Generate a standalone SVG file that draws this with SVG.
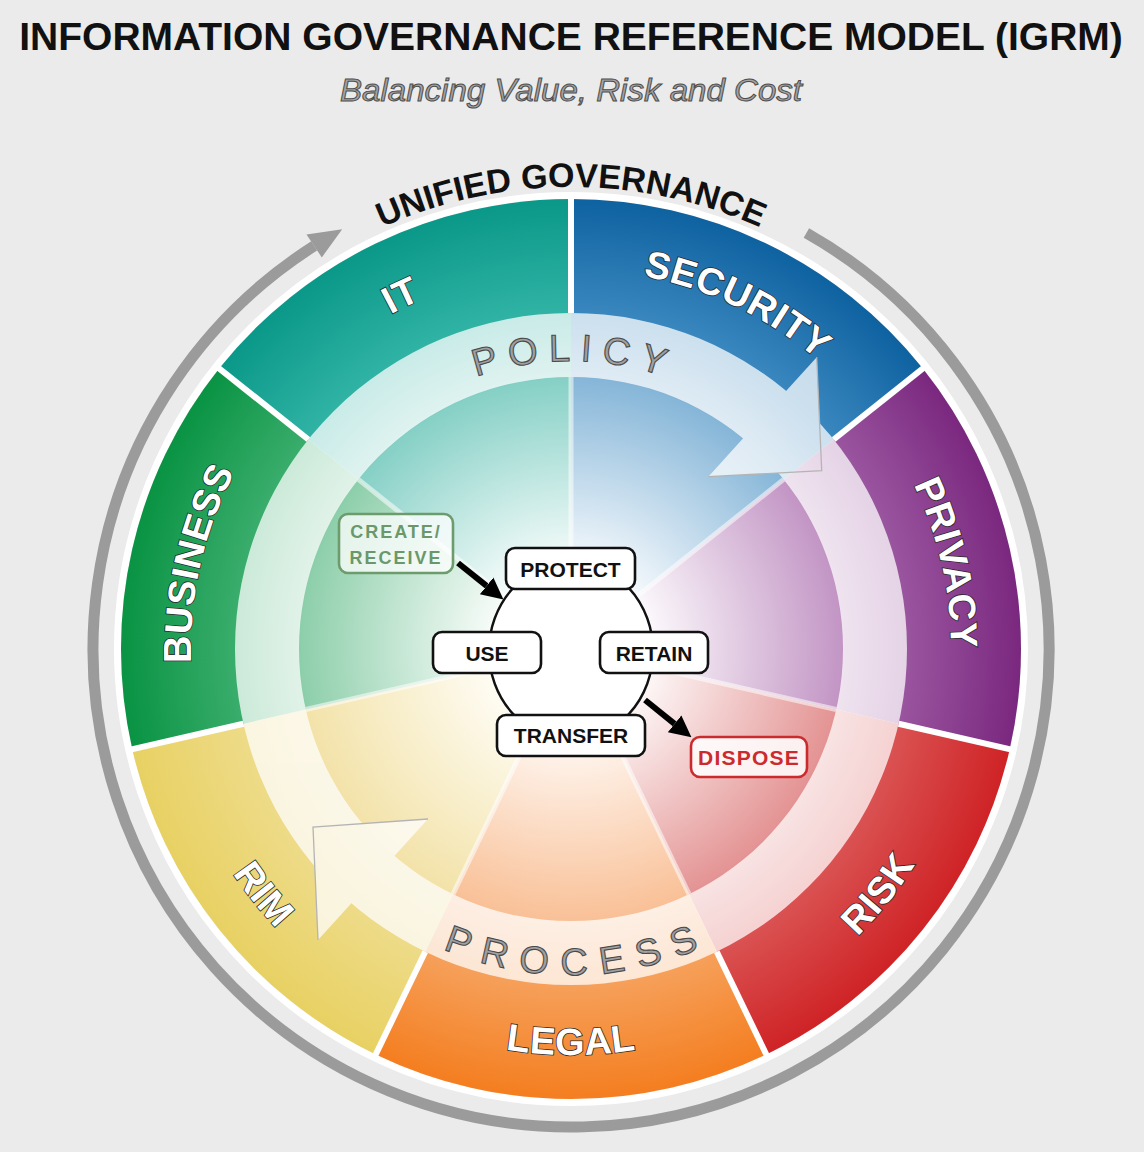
<svg xmlns="http://www.w3.org/2000/svg" xmlns:xlink="http://www.w3.org/1999/xlink" width="1144" height="1152" viewBox="0 0 1144 1152">
<style>
.lbl{font-family:"Liberation Sans",Arial,sans-serif;font-weight:bold;font-size:38px;fill:#fff;stroke:#2a2a2a;stroke-width:1.6px;paint-order:stroke;letter-spacing:0.5px}
.ring{font-family:"Liberation Sans",Arial,sans-serif;font-size:38px;fill:#a0a0a0;stroke:#4a4a4a;stroke-width:1.1px}
.box{fill:#fff;stroke:#111;stroke-width:2.6px}
.bt{font-family:"Liberation Sans",Arial,sans-serif;font-weight:bold;font-size:21px;fill:#111;text-anchor:middle}
.sep{stroke:#fff;stroke-width:6px}
.isep{stroke:#fff;stroke-width:5px;opacity:0.55}
.conn{stroke:#000;stroke-width:6px;fill:none}
</style>
<defs>
<radialGradient id="gIT" gradientUnits="userSpaceOnUse" cx="571" cy="649" r="450">
<stop offset="0" stop-color="#fff"/><stop offset="0.17" stop-color="#fbfefd"/><stop offset="0.6" stop-color="#86d0c6"/><stop offset="0.745" stop-color="#30b3a5"/><stop offset="1" stop-color="#0a9888"/></radialGradient>
<radialGradient id="gSEC" gradientUnits="userSpaceOnUse" cx="571" cy="649" r="450">
<stop offset="0" stop-color="#fff"/><stop offset="0.17" stop-color="#fafcfe"/><stop offset="0.6" stop-color="#86b6d8"/><stop offset="0.745" stop-color="#3a87bf"/><stop offset="1" stop-color="#0e62a0"/></radialGradient>
<radialGradient id="gPRI" gradientUnits="userSpaceOnUse" cx="571" cy="649" r="450">
<stop offset="0" stop-color="#fff"/><stop offset="0.17" stop-color="#fdfbfd"/><stop offset="0.6" stop-color="#c396c5"/><stop offset="0.745" stop-color="#9a559f"/><stop offset="1" stop-color="#7a287f"/></radialGradient>
<radialGradient id="gRISK" gradientUnits="userSpaceOnUse" cx="571" cy="649" r="450">
<stop offset="0" stop-color="#fff"/><stop offset="0.17" stop-color="#fefafa"/><stop offset="0.6" stop-color="#e49494"/><stop offset="0.745" stop-color="#da5252"/><stop offset="1" stop-color="#cf2326"/></radialGradient>
<radialGradient id="gLEG" gradientUnits="userSpaceOnUse" cx="571" cy="649" r="450">
<stop offset="0" stop-color="#fff"/><stop offset="0.17" stop-color="#fffbf8"/><stop offset="0.6" stop-color="#f9c198"/><stop offset="0.745" stop-color="#f6a05a"/><stop offset="1" stop-color="#f47e20"/></radialGradient>
<radialGradient id="gRIM" gradientUnits="userSpaceOnUse" cx="571" cy="649" r="450">
<stop offset="0" stop-color="#fff"/><stop offset="0.17" stop-color="#fffdf6"/><stop offset="0.6" stop-color="#f3e3aa"/><stop offset="0.745" stop-color="#eedb88"/><stop offset="1" stop-color="#e8d163"/></radialGradient>
<radialGradient id="gBUS" gradientUnits="userSpaceOnUse" cx="571" cy="649" r="450">
<stop offset="0" stop-color="#fff"/><stop offset="0.17" stop-color="#fafdfb"/><stop offset="0.6" stop-color="#8ecfab"/><stop offset="0.745" stop-color="#3aad6c"/><stop offset="1" stop-color="#099343"/></radialGradient>
<marker id="ah" viewBox="0 0 10 10" refX="0" refY="5" markerWidth="3.6" markerHeight="4.2" orient="auto" markerUnits="strokeWidth">
<path d="M0 0 L10 5 L0 10 Z" fill="#000"/></marker>
<path id="pIT" d="M192.06 620.6 A380 380 0 0 1 785.06 335.03"/>
<path id="pSEC" d="M356.94 335.03 A380 380 0 0 1 949.94 620.6"/>
<path id="pPRI" d="M683.01 285.88 A380 380 0 0 1 829.46 927.56"/>
<path id="pBUS" d="M312.54 927.56 A380 380 0 0 1 458.99 285.88"/>
<path id="pRISK" d="M510.49 1050.46 A406 406 0 0 0 948.93 500.67"/>
<path id="pLEG" d="M219.39 852 A406 406 0 0 0 922.61 852"/>
<path id="pRIM" d="M193.07 500.67 A406 406 0 0 0 631.51 1050.46"/>
<path id="pUG" d="M170.9 418 A462 462 0 0 1 971.1 418"/>
<path id="pPOL" d="M321.58 505 A288 288 0 0 1 820.42 505"/>
<path id="pPRO" d="M288.68 812 A326 326 0 0 0 853.32 812"/>
</defs>

<rect width="1144" height="1152" fill="#ebebeb"/>

<g id="title">
<text x="571" y="50" text-anchor="middle" font-family="'Liberation Sans',Arial,sans-serif" font-weight="bold" font-size="39" fill="#111">INFORMATION GOVERNANCE REFERENCE MODEL (IGRM)</text>
<text x="571" y="101" text-anchor="middle" textLength="462" lengthAdjust="spacingAndGlyphs" font-family="'Liberation Sans',Arial,sans-serif" font-style="italic" font-size="32" fill="#a3a3a3" stroke="#4d4d4d" stroke-width="1">Balancing Value, Risk and Cost</text>
</g>

<g id="unified-governance">
<path d="M806.4 233 A478 478 0 1 1 314.2 245.9" fill="none" stroke="#9b9b9b" stroke-width="11"/>
<polygon points="342.2,229.3 306.5,234.5 321.8,257.4" fill="#9b9b9b"/>
<text font-family="'Liberation Sans',Arial,sans-serif" font-weight="bold" font-size="34" fill="#111" text-anchor="middle"><textPath href="#pUG" xlink:href="#pUG" startOffset="50%">UNIFIED GOVERNANCE</textPath></text>
</g>

<circle cx="571" cy="649" r="453.5" fill="none" stroke="#fff" stroke-width="7"/>

<g id="sector-security"><path d="M571 649 L571 199 A450 450 0 0 1 922.82 368.43 Z" fill="url(#gSEC)"/></g>
<g id="sector-privacy"><path d="M571 649 L922.82 368.43 A450 450 0 0 1 1009.72 749.13 Z" fill="url(#gPRI)"/></g>
<g id="sector-risk"><path d="M571 649 L1009.72 749.13 A450 450 0 0 1 766.25 1054.44 Z" fill="url(#gRISK)"/></g>
<g id="sector-legal"><path d="M571 649 L766.25 1054.44 A450 450 0 0 1 375.75 1054.44 Z" fill="url(#gLEG)"/></g>
<g id="sector-rim"><path d="M571 649 L375.75 1054.44 A450 450 0 0 1 132.28 749.13 Z" fill="url(#gRIM)"/></g>
<g id="sector-business"><path d="M571 649 L132.28 749.13 A450 450 0 0 1 219.18 368.43 Z" fill="url(#gBUS)"/></g>
<g id="sector-it"><path d="M571 649 L219.18 368.43 A450 450 0 0 1 571 199 Z" fill="url(#gIT)"/></g>

<g id="separators">
<line class="sep" x1="571" y1="313" x2="571" y2="196"/>
<line class="sep" x1="833.69" y1="439.51" x2="925.17" y2="366.56"/>
<line class="sep" x1="898.58" y1="723.77" x2="1012.64" y2="749.8"/>
<line class="sep" x1="716.78" y1="951.73" x2="767.55" y2="1057.14"/>
<line class="sep" x1="425.22" y1="951.73" x2="374.45" y2="1057.14"/>
<line class="sep" x1="243.42" y1="723.77" x2="129.36" y2="749.8"/>
<line class="sep" x1="308.31" y1="439.51" x2="216.83" y2="366.56"/>
<line class="isep" x1="571" y1="649" x2="571" y2="377"/>
<line class="isep" x1="571" y1="649" x2="783.66" y2="479.41"/>
<line class="isep" x1="571" y1="649" x2="836.18" y2="709.53"/>
<line class="isep" x1="571" y1="649" x2="689.02" y2="894.06"/>
<line class="isep" x1="571" y1="649" x2="452.98" y2="894.06"/>
<line class="isep" x1="571" y1="649" x2="305.82" y2="709.53"/>
<line class="isep" x1="571" y1="649" x2="358.34" y2="479.41"/>
</g>

<g id="policy-process-ring">
<g opacity="0.74" fill="#fff">
<path fill-rule="evenodd" d="M235 649 A336 336 0 1 0 907 649 A336 336 0 1 0 235 649 Z M299 649 A272 272 0 1 0 843 649 A272 272 0 1 0 299 649 Z"/>
<polygon points="816.7,357.3 821.7,470.7 708.3,476.7"/>
<polygon points="428,819 313,827 318,940"/>
</g>
<polyline points="816.7,357.3 821.7,470.7 708.3,476.7" fill="none" stroke="#b4b4b4" stroke-width="1.3"/>
<polyline points="428,819 313,827 318,940" fill="none" stroke="#b4b4b4" stroke-width="1.3"/>
<text class="ring" text-anchor="middle" letter-spacing="10"><textPath href="#pPOL" xlink:href="#pPOL" startOffset="50.5%">POLICY</textPath></text>
<text class="ring" text-anchor="middle" letter-spacing="13"><textPath href="#pPRO" xlink:href="#pPRO" startOffset="51%">PROCESS</textPath></text>
</g>

<g id="labels">
<text class="lbl" text-anchor="middle"><textPath href="#pIT" xlink:href="#pIT" startOffset="50%">IT</textPath></text>
<text class="lbl" text-anchor="middle"><textPath href="#pSEC" xlink:href="#pSEC" startOffset="50%">SECURITY</textPath></text>
<text class="lbl" text-anchor="middle"><textPath href="#pPRI" xlink:href="#pPRI" startOffset="50%">PRIVACY</textPath></text>
<text class="lbl" text-anchor="middle"><textPath href="#pRISK" xlink:href="#pRISK" startOffset="50%">RISK</textPath></text>
<text class="lbl" text-anchor="middle"><textPath href="#pLEG" xlink:href="#pLEG" startOffset="50%">LEGAL</textPath></text>
<text class="lbl" text-anchor="middle"><textPath href="#pRIM" xlink:href="#pRIM" startOffset="50%">RIM</textPath></text>
<text class="lbl" text-anchor="middle"><textPath href="#pBUS" xlink:href="#pBUS" startOffset="50%">BUSINESS</textPath></text>
</g>

<g id="lifecycle">
<ellipse cx="571" cy="651" rx="82" ry="89" fill="#fff" stroke="#111" stroke-width="2.4"/>
</g>

<g id="connectors">
<line class="conn" x1="458" y1="563" x2="486.6" y2="585.9" marker-end="url(#ah)"/>
<line class="conn" x1="645" y1="700" x2="674.6" y2="723.8" marker-end="url(#ah)"/>
</g>

<g id="node-create-receive">
<rect x="339" y="514" width="114" height="59" rx="9" fill="#fff" fill-opacity="0.75" stroke="#6c9c6c" stroke-width="2.6"/>
<text x="396" y="538" class="bt" style="font-size:18px;fill:#6a986a;letter-spacing:2px">CREATE/</text>
<text x="396" y="564" class="bt" style="font-size:18px;fill:#6a986a;letter-spacing:2px">RECEIVE</text>
</g>
<g id="node-protect">
<rect class="box" x="506" y="548" width="129" height="41" rx="9"/>
<text class="bt" x="570.5" y="577">PROTECT</text>
</g>
<g id="node-use">
<rect class="box" x="433" y="632" width="108" height="41" rx="9"/>
<text class="bt" x="487" y="661">USE</text>
</g>
<g id="node-retain">
<rect class="box" x="600" y="632" width="108" height="41" rx="9"/>
<text class="bt" x="654" y="661">RETAIN</text>
</g>
<g id="node-transfer">
<rect class="box" x="497" y="715" width="148" height="41" rx="9"/>
<text class="bt" x="571" y="743">TRANSFER</text>
</g>
<g id="node-dispose">
<rect x="691" y="737" width="116" height="40" rx="9" fill="#fff" fill-opacity="0.85" stroke="#cc2b2e" stroke-width="2.6"/>
<text class="bt" x="749" y="765" style="fill:#cc2b2e;letter-spacing:1.2px">DISPOSE</text>
</g>
</svg>
